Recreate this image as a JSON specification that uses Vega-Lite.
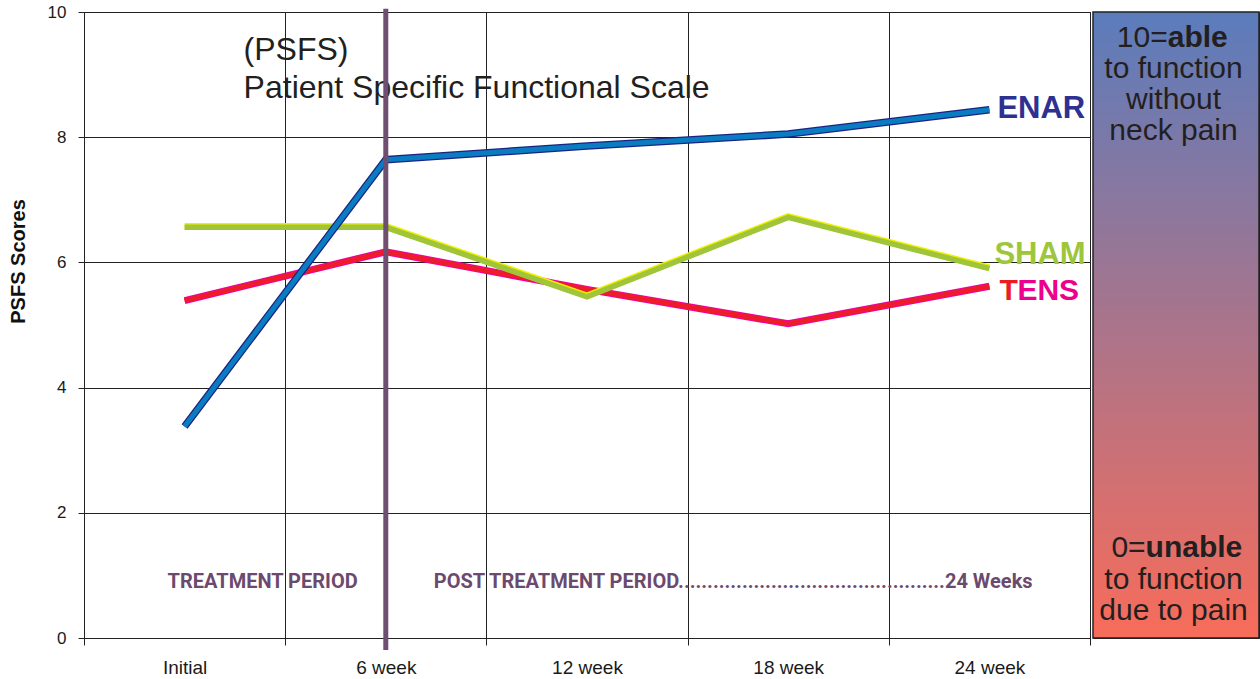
{
  "$schema": "https://vega.github.io/schema/vega-lite/v6.json",
  "padding": {"left": 7, "top": 2, "right": 2, "bottom": 0},
  "background": "white",
  "config": {
    "font": "Liberation Sans",
    "view": {"stroke": "#222", "strokeWidth": 1},
    "concat": {"spacing": 0},
    "axis": {"gridColor": "#222", "gridOpacity": 1, "gridWidth": 1, "domainColor": "#222", "tickColor": "#222", "labelColor": "#1a1a1a", "labelFont": "Liberation Sans", "titleFont": "Liberation Sans"}
  },
  "datasets": {
    "scores": [
      {"series": "ENAR", "time": "Initial", "score": 3.38},
      {"series": "ENAR", "time": "6 week", "score": 7.64},
      {"series": "ENAR", "time": "12 week", "score": 7.86},
      {"series": "ENAR", "time": "18 week", "score": 8.05},
      {"series": "ENAR", "time": "24 week", "score": 8.44},
      {"series": "SHAM", "time": "Initial", "score": 6.56},
      {"series": "SHAM", "time": "6 week", "score": 6.56},
      {"series": "SHAM", "time": "12 week", "score": 5.45},
      {"series": "SHAM", "time": "18 week", "score": 6.72},
      {"series": "SHAM", "time": "24 week", "score": 5.9},
      {"series": "TENS", "time": "Initial", "score": 5.39},
      {"series": "TENS", "time": "6 week", "score": 6.17},
      {"series": "TENS", "time": "12 week", "score": 5.57},
      {"series": "TENS", "time": "18 week", "score": 5.02},
      {"series": "TENS", "time": "24 week", "score": 5.62}
    ],
    "notes": [
      {"id": "ENAR", "time": "24 week", "score": 8.45, "text": "ENAR"},
      {"id": "SHAM", "time": "24 week", "score": 6.12, "text": "SHAM"},
      {"id": "TENS_T", "time": "24 week", "score": 5.54, "text": "T"},
      {"id": "TENS_ENS", "time": "24 week", "score": 5.54, "text": "ENS"},
      {"id": "title", "time": "Initial", "score": 9.39, "text": "(PSFS)"},
      {"id": "title", "time": "Initial", "score": 8.79, "text": "Patient Specific Functional Scale"},
      {"id": "period1", "time": "Initial", "score": 0.9, "text": "TREATMENT PERIOD"},
      {"id": "period2", "time": "6 week", "score": 0.9, "text": "POST TREATMENT PERIOD..............................................24 Weeks"},
      {"id": "divider", "time": "6 week", "score": 10.05, "score2": -0.19}
    ],
    "box": [
      {"id": "bg", "x": 0, "x2": 1, "y": 0, "y2": 10},
      {"id": "c", "x": 0.485, "y": 9.09, "text": "to function"},
      {"id": "c", "x": 0.485, "y": 8.59, "text": "without"},
      {"id": "c", "x": 0.485, "y": 8.1, "text": "neck pain"},
      {"id": "c", "x": 0.485, "y": 0.93, "text": "to function"},
      {"id": "c", "x": 0.485, "y": 0.43, "text": "due to pain"},
      {"id": "r", "x": 0.45, "y": 9.585, "text": "10="},
      {"id": "b", "x": 0.45, "y": 9.585, "text": "able"},
      {"id": "r", "x": 0.317, "y": 1.44, "text": "0="},
      {"id": "b", "x": 0.317, "y": 1.44, "text": "unable"}
    ]
  },
  "hconcat": [
    {
      "width": 1006,
      "height": 626,
      "data": {"name": "scores"},
      "encoding": {
        "x": {
          "field": "time", "type": "ordinal",
          "scale": {"domain": ["Initial", "6 week", "12 week", "18 week", "24 week"], "paddingInner": 0, "paddingOuter": 0},
          "axis": {"title": null, "tickBand": "extent", "grid": true, "labelAngle": 0, "labelFontSize": 19, "labelPadding": 13, "tickSize": 7}
        },
        "y": {
          "field": "score", "type": "quantitative",
          "scale": {"domain": [0, 10], "nice": false},
          "axis": {"values": [0, 2, 4, 6, 8, 10], "title": "PSFS Scores", "titleFontSize": 20, "titleFontWeight": "bold", "titleColor": "#111", "titlePadding": 19, "titleY": 249, "labelFontSize": 17, "labelPadding": 12, "tickSize": 6, "grid": true}
        }
      },
      "layer": [
        {"transform": [{"filter": "datum.series == 'TENS'"}], "mark": {"type": "line", "stroke": "#EC00A8", "strokeWidth": 7, "strokeJoin": "miter", "strokeCap": "butt"}},
        {"transform": [{"filter": "datum.series == 'TENS'"}], "mark": {"type": "line", "stroke": "#EE1C2A", "strokeWidth": 5, "strokeJoin": "miter", "strokeCap": "butt"}},
        {"transform": [{"filter": "datum.series == 'SHAM'"}], "mark": {"type": "line", "stroke": "#EEF000", "strokeWidth": 6.5, "yOffset": -1, "strokeJoin": "miter", "strokeCap": "butt"}},
        {"transform": [{"filter": "datum.series == 'SHAM'"}], "mark": {"type": "line", "stroke": "#A0C43A", "strokeWidth": 5.5, "strokeJoin": "miter", "strokeCap": "butt"}},
        {"transform": [{"filter": "datum.series == 'ENAR'"}], "mark": {"type": "line", "stroke": "#1B2380", "strokeWidth": 7.5, "strokeJoin": "miter", "strokeCap": "butt"}},
        {"transform": [{"filter": "datum.series == 'ENAR'"}], "mark": {"type": "line", "stroke": "#0A7DC2", "strokeWidth": 5, "strokeJoin": "miter", "strokeCap": "butt"}},
        {
          "data": {"name": "notes"},
          "transform": [{"filter": "datum.id == 'title'"}],
          "mark": {"type": "text", "align": "left", "baseline": "middle", "dx": 59, "fontSize": 32, "color": "#231F20"},
          "encoding": {"text": {"field": "text"}}
        },
        {
          "data": {"name": "notes"},
          "transform": [{"filter": "datum.id == 'ENAR'"}],
          "mark": {"type": "text", "align": "left", "baseline": "middle", "dx": 8, "fontSize": 31, "fontWeight": "bold", "color": "#2E3192"},
          "encoding": {"text": {"field": "text"}}
        },
        {
          "data": {"name": "notes"},
          "transform": [{"filter": "datum.id == 'SHAM'"}],
          "mark": {"type": "text", "align": "left", "baseline": "middle", "dx": 5, "fontSize": 31, "fontWeight": "bold", "color": "#9DC63B"},
          "encoding": {"text": {"field": "text"}}
        },
        {
          "data": {"name": "notes"},
          "transform": [{"filter": "datum.id == 'TENS_T'"}],
          "mark": {"type": "text", "align": "left", "baseline": "middle", "dx": 10, "fontSize": 30, "fontWeight": "bold", "color": "#ED1C24"},
          "encoding": {"text": {"field": "text"}}
        },
        {
          "data": {"name": "notes"},
          "transform": [{"filter": "datum.id == 'TENS_ENS'"}],
          "mark": {"type": "text", "align": "left", "baseline": "middle", "dx": 28, "fontSize": 30, "fontWeight": "bold", "color": "#EC008C"},
          "encoding": {"text": {"field": "text"}}
        },
        {
          "data": {"name": "notes"},
          "transform": [{"filter": "datum.id == 'period1'"}],
          "mark": {"type": "text", "align": "left", "baseline": "middle", "dx": -17, "fontSize": 20, "fontWeight": "bold", "color": "#6B4A6E", "font": "Roboto"},
          "encoding": {"text": {"field": "text"}}
        },
        {
          "data": {"name": "notes"},
          "transform": [{"filter": "datum.id == 'period2'"}],
          "mark": {"type": "text", "align": "left", "baseline": "middle", "dx": 48, "fontSize": 20, "fontWeight": "bold", "color": "#6B4A6E", "font": "Roboto"},
          "encoding": {"text": {"field": "text"}}
        },
        {
          "data": {"name": "notes"},
          "transform": [{"filter": "datum.id == 'divider'"}],
          "mark": {"type": "rule", "color": "#6E4F72", "strokeWidth": 5},
          "encoding": {"y2": {"field": "score2"}}
        }
      ]
    },
    {
      "width": 166,
      "height": 626,
      "data": {"name": "box"},
      "encoding": {
        "x": {"field": "x", "type": "quantitative", "scale": {"domain": [0, 1], "nice": false}, "axis": null},
        "y": {"field": "y", "type": "quantitative", "scale": {"domain": [0, 10], "nice": false}, "axis": null}
      },
      "layer": [
        {
          "transform": [{"filter": "datum.id == 'bg'"}],
          "mark": {"type": "rect", "stroke": "#222", "strokeWidth": 1.5, "fill": {"gradient": "linear", "x1": 0, "y1": 0, "x2": 0, "y2": 1, "stops": [{"offset": 0, "color": "#5B7CBC"}, {"offset": 1, "color": "#F86C5A"}]}},
          "encoding": {"x2": {"field": "x2"}, "y2": {"field": "y2"}}
        },
        {
          "transform": [{"filter": "datum.id == 'c'"}],
          "mark": {"type": "text", "align": "center", "baseline": "middle", "fontSize": 30, "color": "#231F20"},
          "encoding": {"text": {"field": "text"}}
        },
        {
          "transform": [{"filter": "datum.id == 'r'"}],
          "mark": {"type": "text", "align": "right", "baseline": "middle", "fontSize": 30, "color": "#231F20"},
          "encoding": {"text": {"field": "text"}}
        },
        {
          "transform": [{"filter": "datum.id == 'b'"}],
          "mark": {"type": "text", "align": "left", "baseline": "middle", "fontSize": 30, "fontWeight": "bold", "color": "#231F20"},
          "encoding": {"text": {"field": "text"}}
        }
      ]
    }
  ]
}
